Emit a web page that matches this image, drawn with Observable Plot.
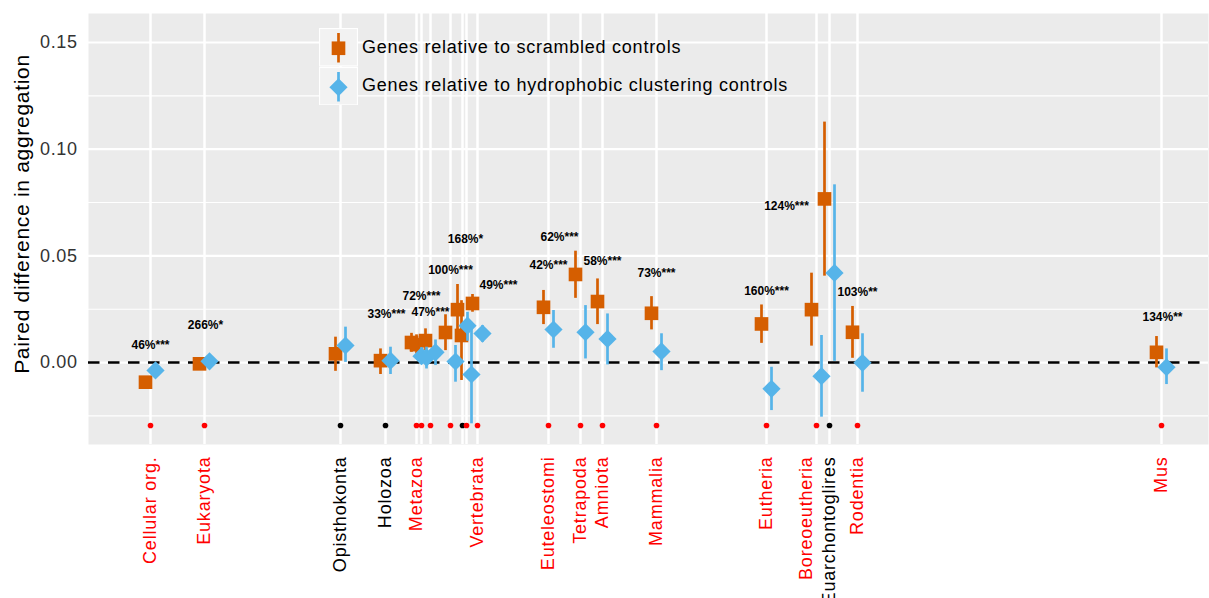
<!DOCTYPE html>
<html>
<head>
<meta charset="utf-8">
<script src="https://cdn.jsdelivr.net/npm/d3@7"></script>
<script src="https://cdn.jsdelivr.net/npm/@observablehq/plot@0.6"></script>
<style>
  body { margin: 0; background: #ffffff; }
  #fig { position: relative; width: 1209px; height: 598px; overflow: hidden;
         font-family: "Liberation Sans", Arial, Helvetica, sans-serif; }
  #legend { position: absolute; left: 319px; top: 28px; }
  #legend .row { display: flex; align-items: center; height: 38.5px; }
  #legend .row svg { display: block; }
  #legend .row span { margin-left: 4px; font-size: 18px; letter-spacing: 0.75px; color: #000; white-space: nowrap; }
</style>
</head>
<body>
<div id="fig"></div>
<script>
// Clades along the phylostratigraphic axis (x position in axis units)
const clades = ["Cellular org.", "Eukaryota", "Opisthokonta", "Holozoa", "Metazoa", "", "", "", "", "",
  "Vertebrata", "Euteleostomi", "Tetrapoda", "Amniota", "Mammalia", "Eutheria", "Boreoeutheria",
  "Euarchontoglires", "Rodentia", "Mus"];
const cladeX = [6.2, 11.6, 25.2, 29.7, 32.8, 33.3, 34.2, 36.2, 37.4, 37.8,
  38.9, 46.0, 49.2, 51.4, 56.8, 67.8, 72.8, 74.1, 76.9, 107.3];
// 1 = significant (red), 0 = not significant (black)
const significant = [1, 1, 0, 0, 1, 1, 1, 1, 0, 1, 1, 1, 1, 1, 1, 1, 1, 0, 1, 1];

// Genes relative to scrambled controls
const scrambledMean = [-0.0092, -0.0006, 0.0041, 0.0009, 0.0094, 0.0084, 0.0103, 0.0141, 0.0248, 0.0127,
  0.0277, 0.0259, 0.0413, 0.0286, 0.0231, 0.0181, 0.0248, 0.0767, 0.0142, 0.0048];
const scrambledLow = [-0.0108, -0.0020, -0.0041, -0.0056, 0.0048, 0.0040, 0.0056, 0.0056, 0.0155, -0.0084,
  0.0236, 0.0178, 0.0301, 0.0178, 0.0153, 0.0090, 0.0077, 0.0405, 0.0020, -0.0025];
const scrambledHigh = [-0.0076, 0.0008, 0.0119, 0.0064, 0.0137, 0.0130, 0.0158, 0.0224, 0.0366, 0.0290,
  0.0319, 0.0338, 0.0522, 0.0392, 0.0309, 0.0270, 0.0419, 0.1127, 0.0263, 0.0122];

// Genes relative to hydrophobic clustering controls
const hydroMean = [-0.0037, 0.0006, 0.0080, 0.0009, 0.0030, 0.0023, 0.0048, 0.0005, 0.0173, -0.0056,
  0.0136, 0.0155, 0.0142, 0.0111, 0.0052, -0.0123, -0.0064, 0.0420, -0.0001, -0.0022];
const hydroLow = [-0.0050, -0.0006, 0.0001, -0.0056, -0.0010, -0.0030, -0.0014, -0.0092, 0.0100, -0.0287,
  0.0095, 0.0067, 0.0017, -0.0011, -0.0038, -0.0225, -0.0256, 0.0006, -0.0139, -0.0103];
const hydroHigh = [-0.0024, 0.0018, 0.0166, 0.0072, 0.0070, 0.0072, 0.0106, 0.0080, 0.0236, 0.0180,
  0.0173, 0.0244, 0.0267, 0.0228, 0.0135, -0.0022, 0.0127, 0.0833, 0.0135, 0.0064];

// Percentage annotations with significance stars
const noteText = ["46%***", "266%*", "33%***", "72%***", "47%***", "100%***", "168%*", "49%***",
  "42%***", "62%***", "58%***", "73%***", "160%***", "124%***", "103%**", "134%**"];
const noteX = [6.2, 11.7, 29.8, 33.3, 34.2, 36.2, 37.7, 41.0, 46.0, 47.1, 51.4, 56.8, 67.8, 69.8, 76.9, 107.4];
const noteY = [0.0080, 0.0173, 0.0225, 0.0309, 0.0234, 0.0431, 0.0577, 0.0361, 0.0455, 0.0586,
  0.0474, 0.0417, 0.0333, 0.0731, 0.0328, 0.0211];

// Row of significance markers below the data
const markerY = -0.0295;

const yMajor = [0, 0.05, 0.10, 0.15];
const yMinor = [-0.025, 0.025, 0.075, 0.125];
const yTitle = "Paired difference in aggregation";
const seriesNames = ["Genes relative to scrambled controls", "Genes relative to hydrophobic clustering controls"];
// this tick label is nudged left so it clears its neighbour
const nudgedLabel = "Boreoeutheria";

const orange = "#D55E00";
const blue = "#56B4E9";

const rows = clades.map((name, i) => ({
  name, x: cladeX[i], sig: significant[i],
  sm: scrambledMean[i], sl: scrambledLow[i], sh: scrambledHigh[i],
  hm: hydroMean[i], hl: hydroLow[i], hh: hydroHigh[i]
}));
const notes = noteText.map((t, i) => ({t, x: noteX[i], y: noteY[i]}));
const nameAt = new Map(rows.map(r => [r.x, r.name]));
const redTicks = rows.filter(r => r.name && r.sig && r.name !== nudgedLabel).map(r => r.x);
const nudgedTicks = rows.filter(r => r.name === nudgedLabel).map(r => r.x);
const blackTicks = rows.filter(r => r.name && !r.sig).map(r => r.x);

const xLabelStyle = { tickFormat: d => nameAt.get(d), tickRotate: -90, tickSize: 0, tickPadding: 12, fontSize: 18, label: null };

const chart = Plot.plot({
  width: 1209,
  height: 598,
  marginLeft: 88,
  marginRight: 1,
  marginTop: 13,
  marginBottom: 154,
  style: { fontFamily: "'Liberation Sans', Arial, Helvetica, sans-serif", background: "transparent" },
  x: { domain: [0, 112] },
  y: { domain: [-0.0384, 0.1636] },
  marks: [
    Plot.frame({ fill: "#EBEBEB", stroke: null }),
    Plot.ruleY(yMinor, { stroke: "white", strokeWidth: 1.1 }),
    Plot.ruleY(yMajor, { stroke: "white", strokeWidth: 2.2 }),
    Plot.ruleX(cladeX, { stroke: "white", strokeWidth: 2.5 }),
    Plot.ruleY([0], { stroke: "black", strokeWidth: 2.4, strokeDasharray: "11.5,8.5" }),
    // scrambled controls: error bars + squares, dodged left
    Plot.ruleX(rows, { x: "x", y1: "sl", y2: "sh", stroke: orange, strokeWidth: 2.7, dx: -5 }),
    Plot.dot(rows, { x: "x", y: "sm", symbol: "square", r: 7.7, fill: orange, dx: -5 }),
    // hydrophobic clustering controls: error bars + diamonds, dodged right
    Plot.ruleX(rows, { x: "x", y1: "hl", y2: "hh", stroke: blue, strokeWidth: 2.7, dx: 5 }),
    Plot.dot(rows, { x: "x", y: "hm", symbol: "diamond2", r: 8.2, fill: blue, dx: 5 }),
    // significance markers
    Plot.dot(rows, { x: "x", y: () => markerY, r: 2.8, fill: d => d.sig ? "#FF0000" : "#000000" }),
    Plot.text(notes, { x: "x", y: "y", text: "t", fontWeight: "bold", fontSize: 12, fill: "#000" }),
    Plot.axisY(yMajor, { tickFormat: d3.format(".2f"), tickSize: 0, tickPadding: 11, fontSize: 18, color: "#333", label: null }),
    Plot.axisX(redTicks, { ...xLabelStyle, color: "#FF0000" }),
    Plot.axisX(nudgedTicks, { ...xLabelStyle, color: "#FF0000", dx: -10 }),
    Plot.axisX(blackTicks, { ...xLabelStyle, color: "#000000" }),
    Plot.text([yTitle], { text: d => d, frameAnchor: "left", textAnchor: "middle", rotate: -90, dx: -66, dy: -15,
      fontSize: 21, fill: "#000" })
  ]
});

// Slightly looser tracking on axis labels
d3.select(chart).selectAll('g[aria-label="x-axis tick label"]').style("letter-spacing", "0.8px");
d3.select(chart).selectAll('g[aria-label="y-axis tick label"]').style("letter-spacing", "0.6px");
d3.select(chart).selectAll('g[aria-label="text"]').filter((d, i, n) => i === n.length - 1)
  .style("letter-spacing", "0.7px");

const fig = document.getElementById("fig");
fig.appendChild(chart);

// Legend laid over the panel
const legend = d3.select(fig).append("div").attr("id", "legend");
const keyW = 39, keyH = 38.5;
seriesNames.forEach((label, i) => {
  const row = legend.append("div").attr("class", "row");
  const svg = row.append("svg").attr("width", keyW).attr("height", keyH);
  svg.append("rect").attr("x", 0.5).attr("y", 0.5).attr("width", keyW - 1).attr("height", keyH - 1)
    .attr("fill", "#F2F2F2").attr("stroke", "white").attr("stroke-width", 1.2);
  const col = i === 0 ? orange : blue;
  svg.append("line").attr("x1", keyW / 2).attr("x2", keyW / 2).attr("y1", 5).attr("y2", keyH - 4)
    .attr("stroke", col).attr("stroke-width", 2.7);
  const sym = i === 0 ? d3.symbol(d3.symbolSquare, 7.7 * 7.7 * Math.PI) : d3.symbol(d3.symbolDiamond2, 8.2 * 8.2 * Math.PI);
  svg.append("path").attr("d", sym()).attr("transform", `translate(${keyW / 2},${keyH / 2 + 1})`).attr("fill", col);
  row.append("span").text(label);
});
</script>
</body>
</html>
